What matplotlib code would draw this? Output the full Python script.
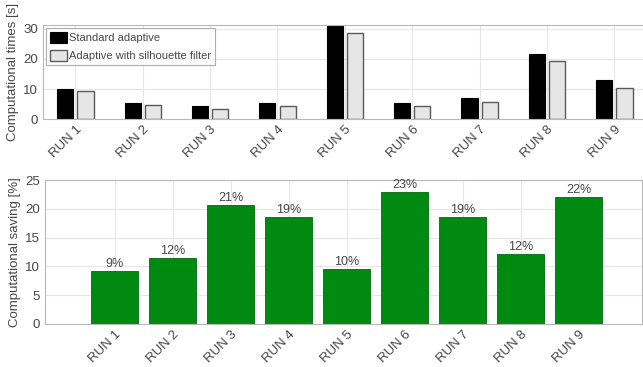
import numpy as np
import matplotlib
matplotlib.use("Agg")
import matplotlib.pyplot as plt

runs = ["RUN 1", "RUN 2", "RUN 3", "RUN 4", "RUN 5", "RUN 6", "RUN 7", "RUN 8", "RUN 9"]
t_standard = [10.1, 5.2, 4.2, 5.3, 31.6, 5.4, 6.9, 21.8, 13.1]
t_silhouette = [9.3, 4.7, 3.5, 4.4, 28.5, 4.3, 5.7, 19.2, 10.3]
saving = [9.2, 11.5, 20.7, 18.6, 9.6, 22.9, 18.6, 12.2, 22.0]

txt = "#474747"
spine = "#b8b8b8"
grid = "#e6e6e6"

plt.rcParams["font.family"] = "Liberation Sans"

fig = plt.figure(figsize=(6.43, 3.67), dpi=100)

def style(ax):
    for s in ax.spines.values():
        s.set_color(spine)
        s.set_linewidth(0.8)
    ax.grid(True, color=grid, linewidth=0.8)
    ax.set_axisbelow(True)
    ax.tick_params(colors=spine, labelcolor=txt, length=0, labelsize=9.5)

# computational times
ax1 = fig.add_axes([0.0669, 0.6757, 0.941, 0.256])
x = np.arange(1, len(runs) + 1)
ax1.bar(x - 0.15, t_standard, 0.24, color="black", edgecolor="black", linewidth=0.8,
        label="Standard adaptive")
ax1.bar(x + 0.15, t_silhouette, 0.24, color="#e6e6e6", edgecolor="#5a5a5a", linewidth=1.0,
        label="Adaptive with silhouette filter")
ax1.set_xlim(0.52, 9.5)
ax1.set_ylim(0, 31.3)
ax1.set_yticks([0, 10, 20, 30])
ax1.set_xticks(x)
ax1.set_xticklabels(runs, rotation=45, ha="right", rotation_mode="anchor", fontsize=8.5)
style(ax1)
ax1.set_ylabel("Computational times [s]", color=txt, fontsize=9.5, labelpad=3)
leg = ax1.legend(loc="upper left", fontsize=8, frameon=True, fancybox=False,
                 borderpad=0.35, handlelength=1.6, handleheight=1.2, handletextpad=0.15,
                 labelspacing=0.6, borderaxespad=0.25)
leg.get_frame().set_edgecolor("#9a9a9a")
leg.get_frame().set_linewidth(0.8)
for t in leg.get_texts():
    t.set_color(txt)

# computational saving
ax2 = fig.add_axes([0.07, 0.1172, 0.929, 0.392])
ax2.bar(x, saving, 0.8, color="#008a12", edgecolor="#006a0e", linewidth=0.6)
for xi, v in zip(x, saving):
    ax2.text(xi, v + 0.2, f"{round(v)}%", ha="center", va="bottom", fontsize=9, color=txt)
ax2.set_xlim(-0.2, 10.1)
ax2.set_ylim(0, 25)
ax2.set_yticks([0, 5, 10, 15, 20, 25])
ax2.set_xticks(x)
ax2.set_xticklabels(runs, rotation=45, ha="right", rotation_mode="anchor", fontsize=8.5)
style(ax2)
ax2.set_ylabel("Computational saving [%]", color=txt, fontsize=9.5, labelpad=3)

fig.savefig("out.png", dpi=100)
